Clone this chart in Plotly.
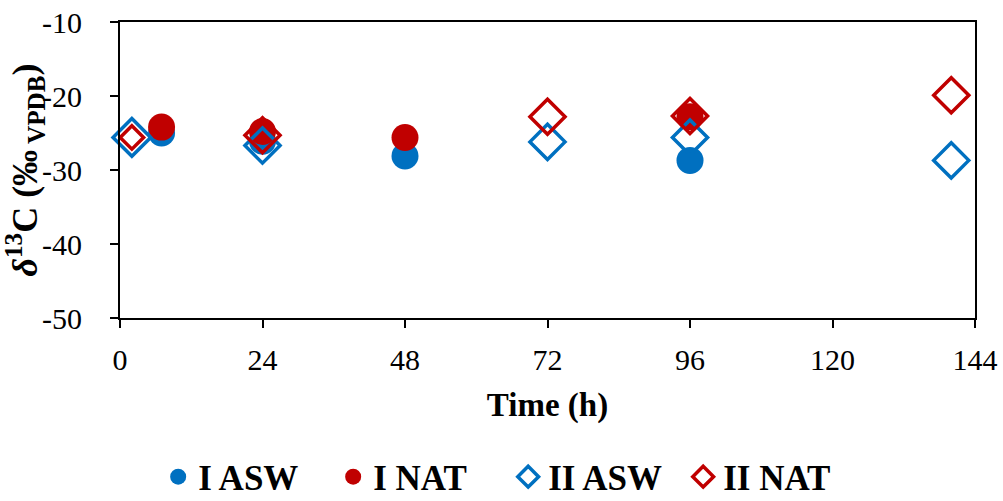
import plotly.graph_objects as go

# Data (time in hours, delta13C in permil VPDB)
t_I_ASW = [7, 24, 48, 96]
v_I_ASW = [-25.0, -26.1, -28.1, -28.7]

t_I_NAT = [7, 24, 48, 96]
v_I_NAT = [-24.2, -24.8, -25.6, -22.8]

t_II_ASW = [2, 24, 72, 96, 140]
v_II_ASW = [-25.6, -26.7, -26.2, -25.6, -28.7]

t_II_NAT = [2, 24, 72, 96, 140]
v_II_NAT = [-25.6, -25.3, -22.8, -22.7, -19.9]

x_ticks = [0, 24, 48, 72, 96, 120, 144]
y_ticks = [-50, -40, -30, -20, -10]

BLUE = "#0070C0"
RED = "#C00000"
FONT = "Liberation Serif"

fig = go.Figure()
fig.add_trace(go.Scatter(x=t_I_ASW, y=v_I_ASW, mode="markers", name="I ASW",
                         marker=dict(symbol="circle", size=27, color=BLUE, line=dict(width=0)),
                         cliponaxis=False))
fig.add_trace(go.Scatter(x=t_I_NAT, y=v_I_NAT, mode="markers", name="I NAT",
                         marker=dict(symbol="circle", size=27, color=RED, line=dict(width=0)),
                         cliponaxis=False))
fig.add_trace(go.Scatter(x=t_II_ASW, y=v_II_ASW, mode="markers", name="II ASW",
                         marker=dict(symbol="diamond-open", size=[29, 27, 27, 27, 27], color=BLUE,
                                     opacity=1, line=dict(width=3.5, color=BLUE)),
                         cliponaxis=False))
fig.add_trace(go.Scatter(x=t_II_NAT, y=v_II_NAT, mode="markers", name="II NAT",
                         marker=dict(symbol="diamond-open", size=[18, 27, 27, 27, 27], color=RED,
                                     opacity=1, line=dict(width=3.5, color=RED)),
                         cliponaxis=False))

fig.update_layout(
    width=1003, height=501,
    margin=dict(l=120, r=28, t=22, b=183, autoexpand=False),
    paper_bgcolor="white", plot_bgcolor="white",
    font=dict(family=FONT, color="black", size=30),
    showlegend=True,
    legend=dict(orientation="h", x=0.454, xanchor="center", y=-0.537, yanchor="middle",
                font=dict(family=FONT, size=35, color="black", weight="bold"),
                itemsizing="trace", tracegroupgap=0, itemwidth=30,
                entrywidth=130, entrywidthmode="pixels", maxheight=120,
                bgcolor="rgba(0,0,0,0)"),
)
fig.update_xaxes(range=[0, 144], tickvals=x_ticks, ticktext=[str(v) for v in x_ticks],
                 showgrid=False, zeroline=False, showline=True, linecolor="black", linewidth=2,
                 mirror=True, ticks="outside", ticklen=8, tickwidth=2, tickcolor="black",
                 tickfont=dict(family=FONT, size=30), automargin=False, ticklabelstandoff=6,
                 title=dict(text="<b>Time (h)</b>", font=dict(family=FONT, size=33), standoff=18))
fig.update_yaxes(range=[-50, -10], tickvals=y_ticks, ticktext=[str(v) for v in y_ticks],
                 showgrid=False, zeroline=False, showline=True, linecolor="black", linewidth=2,
                 mirror=True, ticks="outside", ticklen=8, tickwidth=2, tickcolor="black",
                 tickfont=dict(family=FONT, size=30), automargin=False, ticklabelstandoff=22,
                 title=dict(text="<b><i>δ</i><sup>13</sup>C (‰<sub> VPDB</sub>)</b>",
                            font=dict(family=FONT, size=36), standoff=4))

fig.write_html("out.html")
